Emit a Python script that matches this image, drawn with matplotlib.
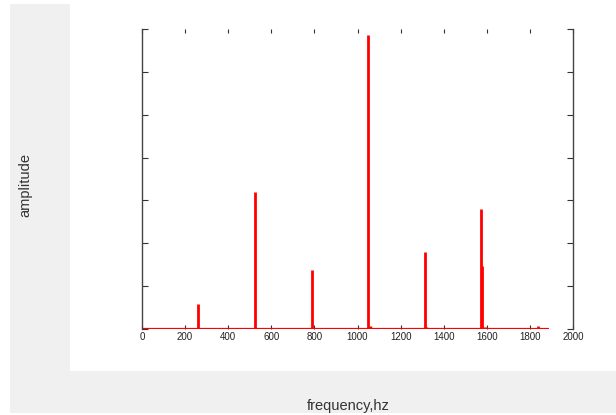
import matplotlib
matplotlib.use("Agg")
from matplotlib import pyplot as plt
from matplotlib.patches import Rectangle

# spectrum peaks
peak_freq = [262, 525, 787, 1050, 1312, 1575, 1580, 1837]
peak_amp = [0.58, 3.2, 1.38, 6.87, 1.8, 2.8, 1.47, 0.06]
# little shoulders next to some peaks
bump_freq = [1058, 1318, 1590]
bump_amp = [0.07, 0.05, 0.04]
f_start, f_end = 0, 1890

xticks = [0, 200, 400, 600, 800, 1000, 1200, 1400, 1600, 1800, 2000]
xlabels = ['0', '200', '400', '600', '800', '1000', '1200', '1400', '1600', '1800', '2000']
yticks = [0, 1, 2, 3, 4, 5, 6, 7]

plt.rcParams['font.family'] = ['Liberation Sans', 'DejaVu Sans']

fig = plt.figure(figsize=(6.16, 4.15), dpi=100)
fig.patch.set_facecolor('white')
# grey panel and the white plotting area on top of it
fig.patches.append(Rectangle((10 / 616, 2 / 415), 606 / 616, 409 / 415,
                             transform=fig.transFigure, facecolor='#f0f0f0',
                             edgecolor='none', zorder=-20))
fig.patches.append(Rectangle((70 / 616, 44 / 415), 546 / 616, 371 / 415,
                             transform=fig.transFigure, facecolor='white',
                             edgecolor='none', zorder=-10))

ax = fig.add_axes([142 / 616, 86 / 415, 431 / 616, 300 / 415])
ax.set_facecolor('none')
ax.set_zorder(5)

ax.plot([f_start, f_end], [0, 0], color='#ff0000', lw=1.6, solid_capstyle='butt')
ax.vlines(peak_freq, 0, peak_amp, color='#ff0000', lw=2)
ax.vlines(bump_freq, 0, bump_amp, color='#ff0000', lw=2.5)

ax.set_xlim(0, 2000)
ax.set_ylim(0, 7)
ax.set_xticks(xticks)
ax.set_xticklabels(xlabels, fontsize=7)
ax.set_yticks(yticks)
ax.set_yticklabels([])
ax.tick_params(direction='in', length=3, width=0.8, color='#333333', pad=2,
               top=True, right=True, labelcolor='#222222')
ax.tick_params(axis='y', length=4)
for side in ['top', 'bottom']:
    ax.spines[side].set_visible(False)
for side in ['left', 'right']:
    ax.spines[side].set_color('#444444')
    ax.spines[side].set_linewidth(1)

fig.text(25 / 616, 1 - 185 / 415, 'amplitude', rotation=90, ha='center',
         va='center', fontsize=10.5, color='#333333')
fig.text(348 / 616, 1 - 406 / 415, 'frequency,hz', ha='center', va='center',
         fontsize=10.5, color='#333333')

fig.savefig('out.png', dpi=100, facecolor=fig.get_facecolor())
